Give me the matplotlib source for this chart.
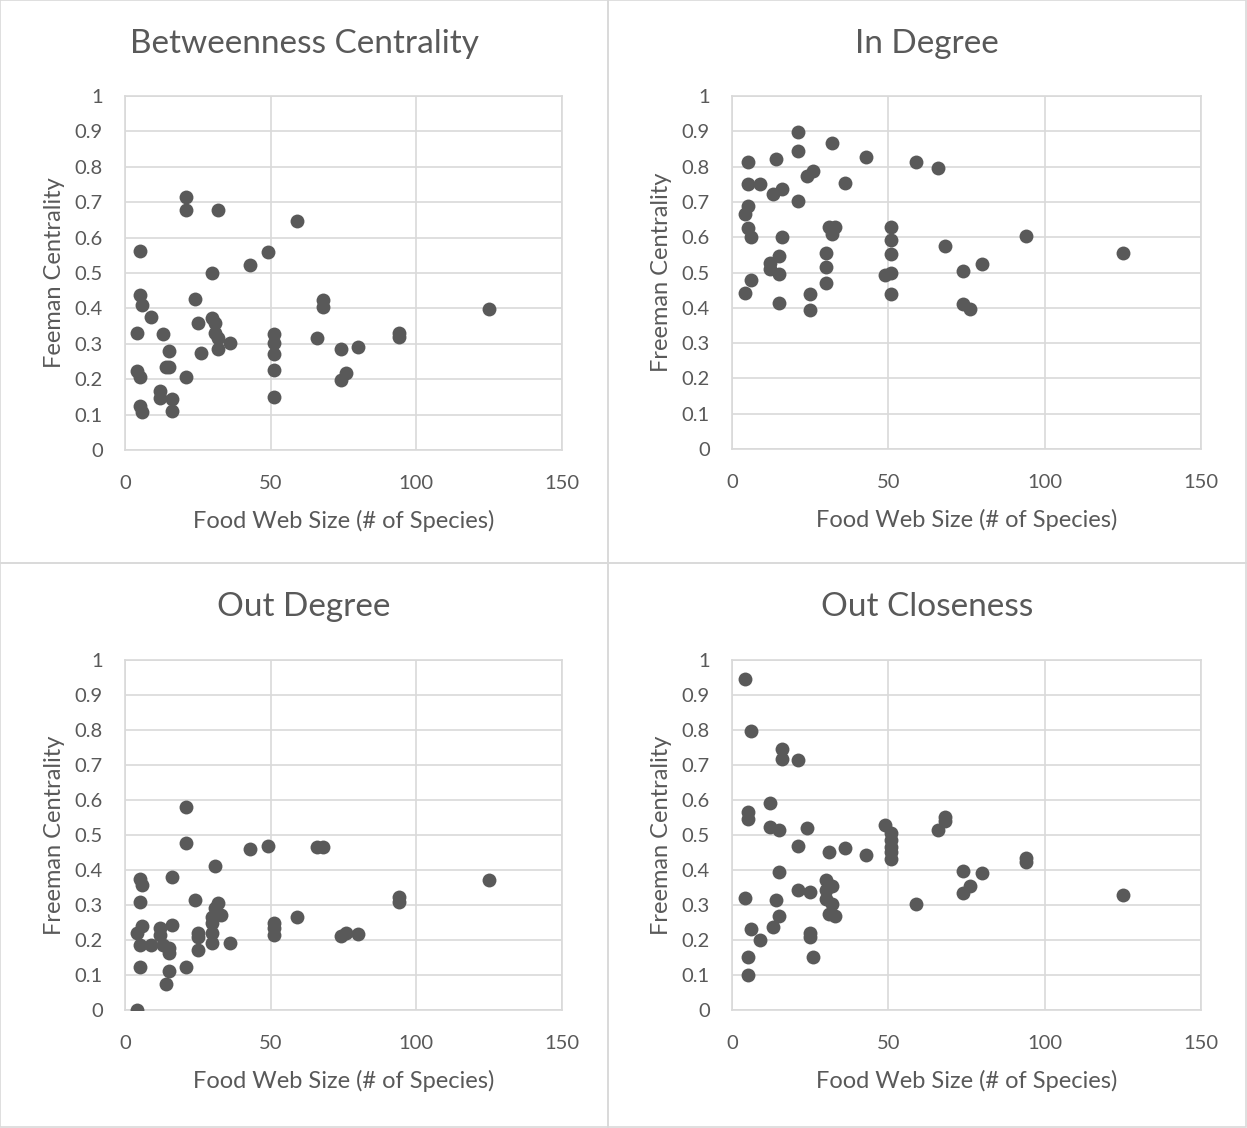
import matplotlib
matplotlib.use("Agg")
import matplotlib.pyplot as plt
from matplotlib.patches import Rectangle

plt.rcParams['font.family'] = ['Lato', 'DejaVu Sans']

# data
btw_x = [21, 21, 32, 59, 5, 49, 43, 30, 5, 24, 6, 9, 4, 13, 25, 30, 31, 31, 32, 36,
         32, 15, 26, 51, 51, 51, 51, 51, 4, 5, 14, 15, 21, 12, 12, 16, 5, 6, 16, 68,
         68, 66, 74, 80, 94, 94, 76, 74, 125]
btw_y = [.714, .678, .678, .648, .562, .559, .523, .499, .438, .427, .410, .377, .331, .327, .360, .373, .360, .330, .316, .303,
         .285, .279, .275, .327, .303, .271, .225, .151, .222, .207, .235, .234, .207, .168, .148, .143, .124, .108, .109, .424,
         .405, .317, .285, .290, .330, .320, .217, .198, .397]

indeg_x = [21, 32, 43, 59, 5, 14, 21, 26, 24, 5, 9, 36, 16, 13, 21, 5, 4, 5, 6, 16,
           31, 33, 32, 51, 51, 51, 30, 15, 12, 12, 15, 30, 30, 6, 4, 15, 25, 25, 49, 51,
           51, 66, 94, 68, 80, 74, 74, 76, 125]
indeg_y = [.897, .868, .827, .812, .812, .822, .843, .788, .773, .751, .751, .753, .737, .722, .703, .688, .666, .626, .600, .600,
           .628, .628, .609, .628, .592, .552, .556, .547, .528, .509, .495, .515, .471, .479, .443, .413, .438, .394, .493, .499,
           .438, .795, .604, .574, .525, .504, .410, .397, .555]

outdeg_x = [21, 21, 43, 49, 31, 5, 6, 16, 5, 24, 32, 31, 33, 30, 30, 6, 16, 4, 12, 12,
            25, 25, 30, 30, 36, 5, 9, 13, 15, 15, 25, 51, 51, 51, 59, 5, 15, 21, 14, 4,
            66, 68, 94, 94, 74, 76, 80, 125]
outdeg_y = [.581, .476, .459, .469, .412, .374, .357, .380, .309, .314, .307, .291, .271, .267, .248, .240, .242, .219, .233, .214,
            .221, .208, .219, .191, .192, .186, .186, .186, .176, .162, .171, .248, .233, .214, .267, .122, .112, .122, .074, 0.0,
            .465, .465, .324, .309, .211, .221, .217, .371]

outclo_x = [4, 6, 16, 16, 21, 12, 5, 5, 12, 15, 24, 21, 31, 36, 43, 49, 51, 51, 51, 51,
            51, 15, 30, 32, 21, 25, 30, 30, 32, 4, 14, 31, 33, 15, 13, 6, 9, 25, 25, 26,
            5, 5, 59, 68, 68, 66, 94, 94, 74, 80, 76, 74, 125]
outclo_y = [.946, .797, .746, .716, .714, .591, .567, .545, .524, .514, .519, .469, .451, .462, .443, .529, .505, .486, .467, .452,
            .431, .395, .371, .354, .343, .336, .343, .316, .302, .321, .314, .274, .269, .269, .238, .231, .200, .219, .209, .151,
            .151, .100, .303, .551, .541, .514, .433, .424, .398, .391, .354, .333, .329]

titles = ["Betweenness Centrality", "In Degree", "Out Degree", "Out Closeness"]
ylabels = ["Feeman Centrality", "Freeman Centrality", "Freeman Centrality", "Freeman Centrality"]
xlabel = "Food Web Size (# of Species)"
xticks = [0, 50, 100, 150]
yticks = [0, 0.1, 0.2, 0.3, 0.4, 0.5, 0.6, 0.7, 0.8, 0.9, 1]
ytick_labels = ["0", "0.1", "0.2", "0.3", "0.4", "0.5", "0.6", "0.7", "0.8", "0.9", "1"]

W, H = 1247, 1128
fig = plt.figure(figsize=(W / 100, H / 100), dpi=100)

grey = "#D9D9D9"
text_c = "#595959"
dot_c = "#595959"

def fx(px):
    return px / W

def fy(py):
    return 1 - py / H

# chart boxes: (left, top, right, bottom) in px, plot area in px
boxes = [(0, 0, 608, 563), (608, 0, 1246, 563), (0, 563, 608, 1127), (608, 563, 1246, 1127)]
areas = [(125, 96, 562, 450), (732, 96, 1201, 449), (125, 660, 562, 1010), (732, 660, 1201, 1010)]
series = [(btw_x, btw_y), (indeg_x, indeg_y), (outdeg_x, outdeg_y), (outclo_x, outclo_y)]

for i in range(4):
    bl, bt, br, bb = boxes[i]
    fig.patches.append(Rectangle((fx(bl), fy(bb)), fx(br - bl), (bb - bt) / H,
                                 transform=fig.transFigure, fill=False,
                                 edgecolor=grey, linewidth=1.2))
    l, t, r, b = areas[i]
    ax = fig.add_axes([fx(l), fy(b), fx(r - l), (b - t) / H])
    xs, ys = series[i]
    ax.scatter(xs, ys, s=100, color=dot_c, zorder=3, linewidths=0)
    ax.set_xlim(0, 150)
    ax.set_ylim(0, 1)
    ax.set_xticks(xticks)
    ax.set_yticks(yticks)
    ax.set_yticklabels(ytick_labels)
    ax.grid(True, color=grey, linewidth=1.2)
    ax.set_axisbelow(True)
    for s in ax.spines.values():
        s.set_color(grey)
        s.set_linewidth(1.2)
    ax.tick_params(length=0, labelsize=14.5, labelcolor=text_c)
    ax.tick_params(axis="x", pad=18)
    ax.tick_params(axis="y", pad=16)
    ax.set_xlabel(xlabel, fontsize=17, color=text_c, labelpad=13)
    ax.set_ylabel(ylabels[i], fontsize=17, color=text_c, labelpad=7)
    fig.text(fx((bl + br) / 2), fy(bt + 44), titles[i], ha="center", va="center",
             fontsize=24, color=text_c)

fig.savefig("out.png", dpi=100)
